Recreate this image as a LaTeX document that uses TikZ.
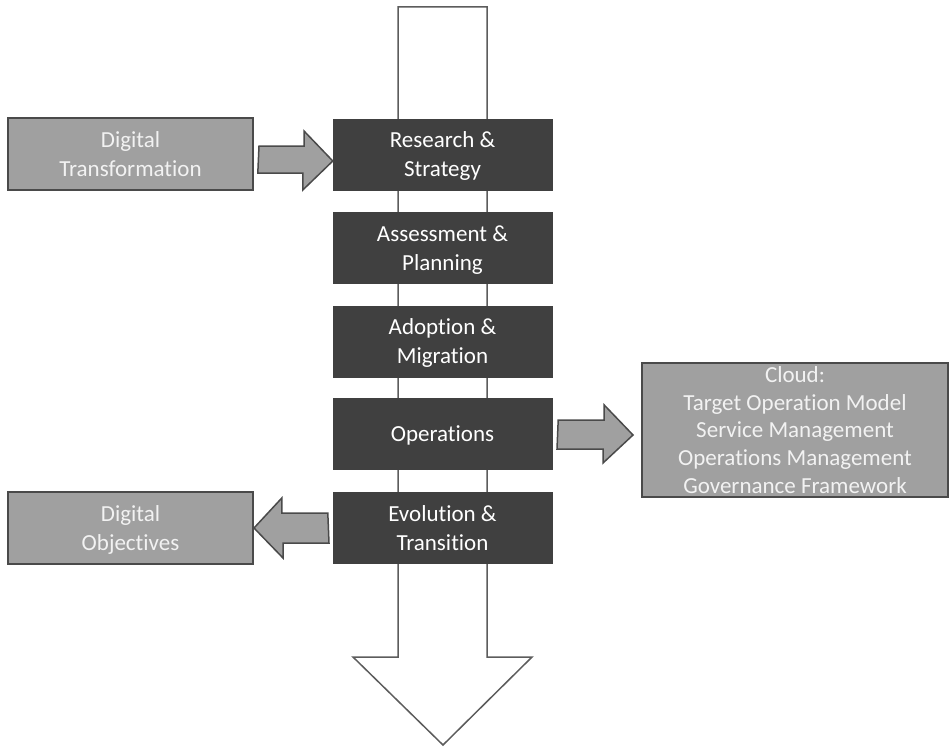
\documentclass[tikz,border=0pt]{standalone}
\usepackage{fontspec}
\setmainfont{Carlito}[Ligatures={TeX,NoCommon}]
\usepackage{tikz}
\usetikzlibrary{calc}

\definecolor{stepdark}{HTML}{404040}
\definecolor{sidegray}{HTML}{A0A0A0}
\definecolor{edgegray}{HTML}{4A4A4A}

\begin{document}
\begin{tikzpicture}[x=1pt, y=-1pt,
  stepbox/.style={draw=stepdark, fill=stepdark, text=white, minimum width=219, minimum height=71, inner sep=0, text depth=0, align=center, font=\fontsize{23}{29}\selectfont},
  sidebox/.style={draw=edgegray, line width=2, fill=sidegray, text=white!95!black, minimum width=245, minimum height=72, inner sep=0, text depth=0, align=center, font=\fontsize{23}{29}\selectfont},
  blockarrow/.style={draw=edgegray, line width=1.5, fill=sidegray, line join=miter},
  flowarrow/.style={draw=edgegray!90, line width=1.5, fill=white}]

\useasboundingbox (0,0) rectangle (949,749);

% main flow
\draw[flowarrow] (398,7) -- (487,7) -- (487,657) -- (532,657) -- (443,745) -- (353,657) -- (398,657) -- cycle;

% steps

\node[stepbox] (rs) at (442.5,154.5) {Research \&\\Strategy};
\node[stepbox] (ap) at (442.5,248) {Assessment \&\\Planning};
\node[stepbox] (am) at (442.5,341.5) {Adoption \&\\Migration};
\node[stepbox] (op) at (442.5,434) {Operations};
\node[stepbox] (et) at (442.5,528) {Evolution \&\\Transition};

% side boxes

\node[sidebox] (dt) at (130.5,154) {Digital\\Transformation};
\node[sidebox] (do) at (130.5,528) {Digital\\Objectives};
\node[sidebox, minimum width=306, minimum height=134, font=\fontsize{23}{27.8}\selectfont] (cl) at (795,430) {Cloud:\\Target Operation Model\\Service Management\\Operations Management\\Governance Framework};

% block arrows
\draw[blockarrow] ($(dt.east)+(5,-8)$) -- ++(45,0) -- ++(0,-15) -- ($(rs.west)+(0,6.5)$) -- ++(-30,29) -- ++(0,-17) -- ++(-45,0) -- cycle;
\draw[blockarrow] ($(op.east)+(6,-14)$) -- ++(46,0) -- ++(0,-15) -- ($(cl.west)+(-8,5)$) -- ++(-30,28) -- ++(0,-14) -- ++(-46,0) -- cycle;
\draw[blockarrow] ($(et.west)+(-5,-15)$) -- ++(-46,0) -- ++(0,-15) -- (do.east) -- ++(29,30) -- ++(0,-15) -- ++(46,0) -- cycle;

\end{tikzpicture}
\end{document}
